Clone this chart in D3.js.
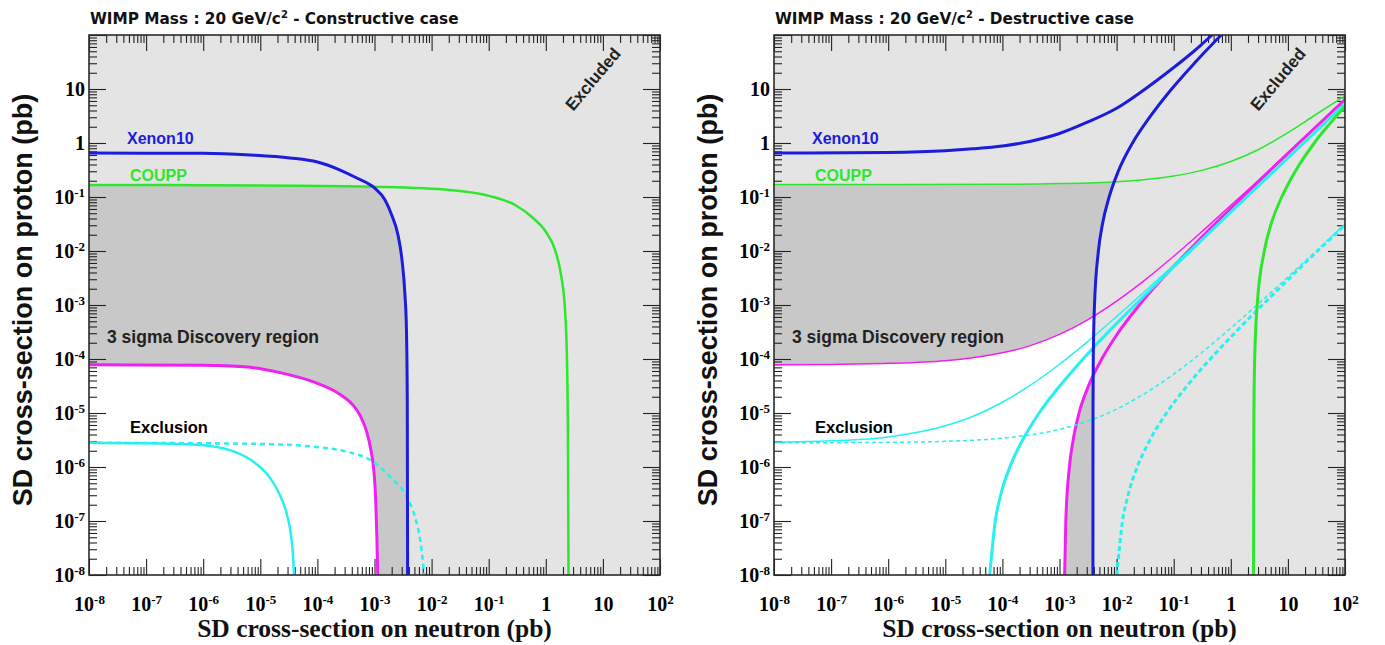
<!DOCTYPE html>
<html>
<head>
<meta charset="utf-8">
<title>SD cross-section limits, WIMP mass 20 GeV/c²</title>
<script src="https://cdn.jsdelivr.net/npm/d3@7/dist/d3.min.js"></script>
<style>
  html, body { margin: 0; padding: 0; background: #ffffff; }
  svg { display: block; }
</style>
</head>
<body>
<svg id="chart" width="1385" height="645"></svg>
<script>
// ---- axis ranges and tick labels (pb) ----
const xDomain = [1e-8, 1e2];
const yDomain = [1e-8, 1e2];
const xTickValues = [1e-8, 1e-7, 1e-6, 1e-5, 1e-4, 1e-3, 1e-2, 1e-1, 1, 10, 100];
const xTickLabels = ["10^-8", "10^-7", "10^-6", "10^-5", "10^-4", "10^-3", "10^-2", "10^-1", "1", "10", "10^2"];
const yTickValues = [1e-8, 1e-7, 1e-6, 1e-5, 1e-4, 1e-3, 1e-2, 1e-1, 1, 10, 100];
const yTickLabels = ["10^-8", "10^-7", "10^-6", "10^-5", "10^-4", "10^-3", "10^-2", "10^-1", "1", "10", ""];

// ---- constructive case: [sigma_n, sigma_p] in pb ----
const xenonCons = [[1e-8,0.65],[1e-6,0.645],[6.6e-6,0.6],[3.3e-5,0.53],[1e-4,0.445],[2.5e-4,0.316],[4.9e-4,0.225],[1e-3,0.147],[1.53e-3,0.088],[2e-3,0.0465],[2.58e-3,0.0198],[3.03e-3,6.8e-3],[3.42e-3,1.5e-3],[3.63e-3,3.4e-4],[3.75e-3,1.7e-5],[3.8e-3,1e-8]];
const couppCons = [[1e-8,0.167],[5e-5,0.162],[1e-3,0.155],[0.021,0.135],[0.105,0.104],[0.29,0.071],[0.57,0.0426],[1.0,0.0227],[1.45,0.0105],[1.85,3.6e-3],[2.17,8.1e-4],[2.35,9.6e-5],[2.45,2.1e-6],[2.5,1e-8]];
const sigma3Cons = [[1e-8,7.8e-5],[1e-6,7.7e-5],[6e-6,7.1e-5],[2.2e-5,5.6e-5],[8.3e-5,3.8e-5],[2.5e-4,2.2e-5],[4.2e-4,1.4e-5],[5.6e-4,9e-6],[7.3e-4,4.5e-6],[8.7e-4,2e-6],[9.8e-4,8e-7],[1.05e-3,2.5e-7],[1.1e-3,5e-8],[1.14e-3,1e-8]];
const exclCons = [[1e-8,2.8e-6],[3.9e-7,2.67e-6],[1.32e-6,2.45e-6],[3.6e-6,1.9e-6],[8.1e-6,1.19e-6],[1.48e-5,6.3e-7],[2.21e-5,3e-7],[2.94e-5,1.3e-7],[3.45e-5,5.5e-8],[3.74e-5,2.35e-8],[3.9e-5,1e-8]];
const exclDotCons = [[1e-8,2.8e-6],[1e-6,2.75e-6],[1e-5,2.67e-6],[8.4e-5,2.38e-6],[3.3e-4,1.92e-6],[9.5e-4,1.25e-6],[1.87e-3,6.6e-7],[3.66e-3,2.8e-7],[5.1e-3,1.2e-7],[6.3e-3,4.5e-8],[7.2e-3,1.4e-8],[7.4e-3,1e-8]];

// ---- destructive case: upper and lower branches ----
const xenonDesUp = [[1e-8,0.65],[1e-6,0.67],[1e-5,0.72],[3e-5,0.78],[1e-4,0.88],[3e-4,1.07],[1e-3,1.5],[3e-3,2.4],[1e-2,4.4],[3e-2,9.6],[0.1,25],[0.2,45],[0.3,65],[0.47,100]];
const xenonDesLow = [[3.85e-3,1e-8],[3.86e-3,1e-5],[3.9e-3,1e-4],[4.1e-3,1e-3],[4.8e-3,1e-2],[5.6e-3,0.03],[7.4e-3,0.1],[0.0107,0.3],[0.019,1],[0.038,3],[0.092,10],[0.23,30],[0.68,100]];
const couppDesUp = [[1e-8,0.17],[1e-4,0.172],[1e-3,0.177],[1e-2,0.192],[3e-2,0.209],[0.1,0.245],[0.3,0.308],[1,0.453],[3,0.75],[10,1.55],[30,3.3],[100,7.5]];
const couppDesLow = [[2.5,1e-8],[2.54,1e-5],[2.62,1e-4],[2.9,1e-3],[3.86,1e-2],[5.0,0.03],[7.8,0.1],[13.5,0.3],[29,1],[68,3],[100,4.8]];
const sigma3DesUp = [[1e-8,7.8e-5],[1e-7,7.95e-5],[1e-6,8.3e-5],[1e-5,9.3e-5],[3e-5,1.05e-4],[1e-4,1.3e-4],[3e-4,1.75e-4],[1e-3,2.85e-4],[3e-3,5.2e-4],[1e-2,1.18e-3],[3e-2,2.8e-3],[0.1,8e-3],[0.3,0.022],[1,0.07],[3,0.2],[10,0.66],[30,1.97],[100,6.5]];
const sigma3DesLow = [[1.23e-3,1e-8],[1.29e-3,1e-7],[1.49e-3,1e-6],[1.72e-3,3e-6],[2.2e-3,1e-5],[3.15e-3,3e-5],[5.5e-3,1e-4],[0.0105,3e-4],[0.025,1e-3],[0.18,1e-2],[1.6,0.1],[15.6,1],[100,6.4]];
const exclDesUp = [[1e-8,2.88e-6],[1e-7,3.05e-6],[1e-6,3.6e-6],[1e-5,5.8e-6],[3e-5,8.6e-6],[1e-4,1.58e-5],[3e-4,3.2e-5],[1e-3,8e-5],[3e-3,2.03e-4],[1e-2,6.1e-4],[0.1,5.5e-3],[1,0.054],[10,0.53],[100,5.3]];
const exclDesLow = [[6e-5,1e-8],[7.5e-5,1e-7],[9.3e-5,3e-7],[1.35e-4,1e-6],[2.2e-4,3e-6],[4.4e-4,1e-5],[9.7e-4,3e-5],[2.58e-3,1e-4],[0.021,1e-3],[0.196,1e-2],[1.9,0.1],[19,1],[100,5.3]];
const exclDotDesUp = [[1e-8,2.8e-6],[1e-6,2.86e-6],[1e-5,2.99e-6],[1e-4,3.42e-6],[1e-3,4.98e-6],[3e-3,6.97e-6],[1e-2,1.18e-5],[3e-2,2.24e-5],[0.1,5.25e-5],[0.3,1.28e-4],[1,3.73e-4],[3,1.04e-3],[10,3.3e-3],[30,9.6e-3],[100,0.0317]];
const exclDotDesLow = [[0.0101,1e-8],[0.0127,1e-7],[0.0159,3e-7],[0.023,1e-6],[0.0373,3e-6],[0.075,1e-5],[0.164,3e-5],[0.438,1e-4],[1.16,3e-4],[3.56,1e-3],[10.2,3e-3],[33,1e-2],[100,0.0305]];

// ---- drawing ----
const COLORS = {
  blue: "#1c1cdc", green: "#2ee62e", magenta: "#f020f0", cyan: "#28f0f0",
  excluded: "#e4e4e4", discovery: "#c8c8c8", ink: "#222222"
};
const SANS = "'Liberation Sans', Arial, Helvetica, sans-serif";
const SERIF = "'Liberation Serif', 'Times New Roman', serif";
const TITLE_FONT = "'DejaVu Sans', Verdana, sans-serif";

const Y0 = 35, W = 571, H = 540;
const svg = d3.select("#chart");
const defs = svg.append("defs");

const panels = [
  {
    key: "cons", x0: 89, caseName: "Constructive case",
    limits: [{ name: "xenon", upper: xenonCons }, { name: "coupp", upper: couppCons }],
    signal: { name: "sigma3", upper: sigma3Cons },
    curves: [
      { data: sigma3Cons, color: COLORS.magenta, width: 3 },
      { data: exclCons, color: COLORS.cyan, width: 2.5 },
      { data: exclDotCons, color: COLORS.cyan, width: 2.5, dash: "5,4" },
      { data: couppCons, color: COLORS.green, width: 2.5 },
      { data: xenonCons, color: COLORS.blue, width: 3 }
    ]
  },
  {
    key: "des", x0: 774, caseName: "Destructive case",
    limits: [
      { name: "xenon", upper: xenonDesUp, lower: xenonDesLow },
      { name: "coupp", upper: couppDesUp, lower: couppDesLow }
    ],
    signal: { name: "sigma3", upper: sigma3DesUp, lower: sigma3DesLow },
    curves: [
      { data: sigma3DesUp, color: COLORS.magenta, width: 1.5 },
      { data: sigma3DesLow, color: COLORS.magenta, width: 3 },
      { data: exclDotDesUp, color: COLORS.cyan, width: 1.5, dash: "4,3" },
      { data: exclDotDesLow, color: COLORS.cyan, width: 3, dash: "5,3" },
      { data: exclDesUp, color: COLORS.cyan, width: 1.5 },
      { data: exclDesLow, color: COLORS.cyan, width: 3 },
      { data: couppDesUp, color: COLORS.green, width: 1.5 },
      { data: couppDesLow, color: COLORS.green, width: 3 },
      { data: xenonDesUp, color: COLORS.blue, width: 3 },
      { data: xenonDesLow, color: COLORS.blue, width: 3 }
    ]
  }
];

// write "10^-3" style labels as base + superscript
function powerLabel(textSel, str, supSize, supShift) {
  const [base, sup] = str.split("^");
  textSel.text(null);
  textSel.append("tspan").text(base);
  if (sup !== undefined) {
    textSel.append("tspan").attr("dy", -supShift).attr("font-size", supSize).text(sup);
  }
}

function drawPanel(p) {
  const x = d3.scaleLog().domain(xDomain).range([0, W]);
  const y = d3.scaleLog().domain(yDomain).range([H, 0]);
  const line = d3.line().x(d => x(d[0])).y(d => y(d[1])).curve(d3.curveMonotoneX);
  const g = svg.append("g").attr("transform", `translate(${p.x0},${Y0})`);
  const id = s => `${p.key}-${s}`;

  // area below a branch that starts on the left edge
  const belowPath = pts => {
    const f = pts[0], l = pts[pts.length - 1];
    return line(pts) + `L${W + 20},${y(l[1])}L${W + 20},${H + 20}L-20,${H + 20}L-20,${y(f[1])}Z`;
  };
  // area left of a branch that starts on the bottom edge
  const leftOfPath = pts => {
    const f = pts[0], l = pts[pts.length - 1];
    return line(pts) + `L${x(l[0])},-20L-20,-20L-20,${H + 20}L${x(f[0])},${H + 20}Z`;
  };
  const clipsFor = region => {
    const list = [];
    const make = (suffix, d) => {
      const cid = id(region.name + suffix);
      defs.append("clipPath").attr("id", cid).append("path").attr("d", d);
      list.push(`url(#${cid})`);
    };
    make("-up", belowPath(region.upper));
    if (region.lower) make("-low", leftOfPath(region.lower));
    return list;
  };

  defs.append("clipPath").attr("id", id("frame"))
    .append("rect").attr("width", W).attr("height", H);

  // background: excluded region
  const plot = g.append("g").attr("clip-path", `url(#${id("frame")})`);
  plot.append("rect").attr("width", W).attr("height", H).attr("fill", COLORS.excluded);

  // region allowed by every limit -> discovery shading
  let allowed = plot;
  p.limits.forEach(r => clipsFor(r).forEach(c => { allowed = allowed.append("g").attr("clip-path", c); }));
  allowed.append("rect").attr("width", W).attr("height", H).attr("fill", COLORS.discovery);

  // below the 3 sigma reach -> white
  let reach = allowed;
  clipsFor(p.signal).forEach(c => { reach = reach.append("g").attr("clip-path", c); });
  reach.append("rect").attr("width", W).attr("height", H).attr("fill", "#ffffff");

  // ticks
  const minor = [];
  for (let e = -8; e < 2; e++) for (let m = 2; m <= 9; m++) minor.push(m * Math.pow(10, e));
  const tidy = sel => sel.attr("color", COLORS.ink).call(s => s.select(".domain").remove())
    .call(s => s.selectAll(".tick line").attr("stroke-width", 1.1));

  g.append("g").attr("transform", `translate(0,${H})`)
    .call(d3.axisBottom(x).tickValues(minor).tickSize(-8).tickFormat("")).call(tidy);
  g.append("g").call(d3.axisTop(x).tickValues(minor).tickSize(-8).tickFormat("")).call(tidy);
  g.append("g").call(d3.axisTop(x).tickValues(xTickValues).tickSize(-16).tickFormat("")).call(tidy);
  g.append("g").call(d3.axisLeft(y).tickValues(minor).tickSize(-8).tickFormat("")).call(tidy);
  g.append("g").attr("transform", `translate(${W},0)`)
    .call(d3.axisRight(y).tickValues(minor).tickSize(-8).tickFormat("")).call(tidy);
  g.append("g").attr("transform", `translate(${W},0)`)
    .call(d3.axisRight(y).tickValues(yTickValues).tickSize(-17).tickFormat("")).call(tidy);

  const bottom = g.append("g").attr("transform", `translate(0,${H})`)
    .call(d3.axisBottom(x).tickValues(xTickValues).tickSize(-16).tickPadding(22)
      .tickFormat((d, i) => xTickLabels[i]))
    .call(tidy);
  bottom.attr("font-family", SERIF).attr("font-size", 20).attr("font-weight", "bold");
  bottom.selectAll(".tick text").attr("fill", "#000").each(function () {
    const t = d3.select(this);
    powerLabel(t, t.text(), 13, 7);
  });

  const left = g.append("g")
    .call(d3.axisLeft(y).tickValues(yTickValues).tickSize(-17).tickPadding(4)
      .tickFormat((d, i) => yTickLabels[i]))
    .call(tidy);
  left.attr("font-family", SERIF).attr("font-size", 20).attr("font-weight", "bold");
  left.selectAll(".tick text").attr("fill", "#000").each(function () {
    const t = d3.select(this);
    powerLabel(t, t.text(), 13, 7);
  });

  // limit and sensitivity curves
  const curveLayer = g.append("g").attr("clip-path", `url(#${id("frame")})`).attr("fill", "none");
  p.curves.forEach(c => {
    curveLayer.append("path")
      .attr("d", line(c.data))
      .attr("stroke", c.color)
      .attr("stroke-width", c.width)
      .attr("stroke-linejoin", "round")
      .attr("stroke-dasharray", c.dash || null);
  });

  // frame
  g.append("rect").attr("width", W).attr("height", H)
    .attr("fill", "none").attr("stroke", "#2a2a2a").attr("stroke-width", 1.6);

  // annotations
  const label = (tx, ty, str, color, size) => g.append("text")
    .attr("x", tx).attr("y", ty).attr("fill", color)
    .attr("font-family", SANS).attr("font-weight", "bold").attr("font-size", size).text(str);
  label(38, 109, "Xenon10", COLORS.blue, 16);
  label(41, 146, "COUPP", COLORS.green, 16);
  label(18, 308, "3 sigma Discovery region", "#222", 17.5);
  label(41, 398, "Exclusion", "#000", 16.5);
  g.append("text")
    .attr("transform", `translate(${W - 66},45) rotate(-50)`)
    .attr("text-anchor", "middle").attr("dominant-baseline", "middle")
    .attr("fill", "#222").attr("font-family", SANS).attr("font-weight", "bold").attr("font-size", 17)
    .text("Excluded");

  // title
  const title = g.append("text").attr("x", 1).attr("y", -11)
    .attr("font-family", TITLE_FONT).attr("font-weight", "bold").attr("font-size", 15.3).attr("fill", "#111");
  title.append("tspan").text("WIMP Mass : 20 GeV/c");
  title.append("tspan").attr("dy", -6).attr("font-size", 10).text("2");
  title.append("tspan").attr("dy", 6).text(` - ${p.caseName}`);

  // axis titles
  g.append("text")
    .attr("transform", `translate(-57,${H / 2 - 5}) rotate(-90)`)
    .attr("text-anchor", "middle").attr("font-family", SANS).attr("font-weight", "bold")
    .attr("font-size", 27).attr("fill", "#111")
    .text("SD cross-section on proton (pb)");
  g.append("text")
    .attr("x", W / 2).attr("y", 602)
    .attr("text-anchor", "middle").attr("font-family", SERIF).attr("font-weight", "bold")
    .attr("font-size", 25.5).attr("fill", "#111")
    .text("SD cross-section on neutron (pb)");
}

panels.forEach(drawPanel);
</script>
</body>
</html>
